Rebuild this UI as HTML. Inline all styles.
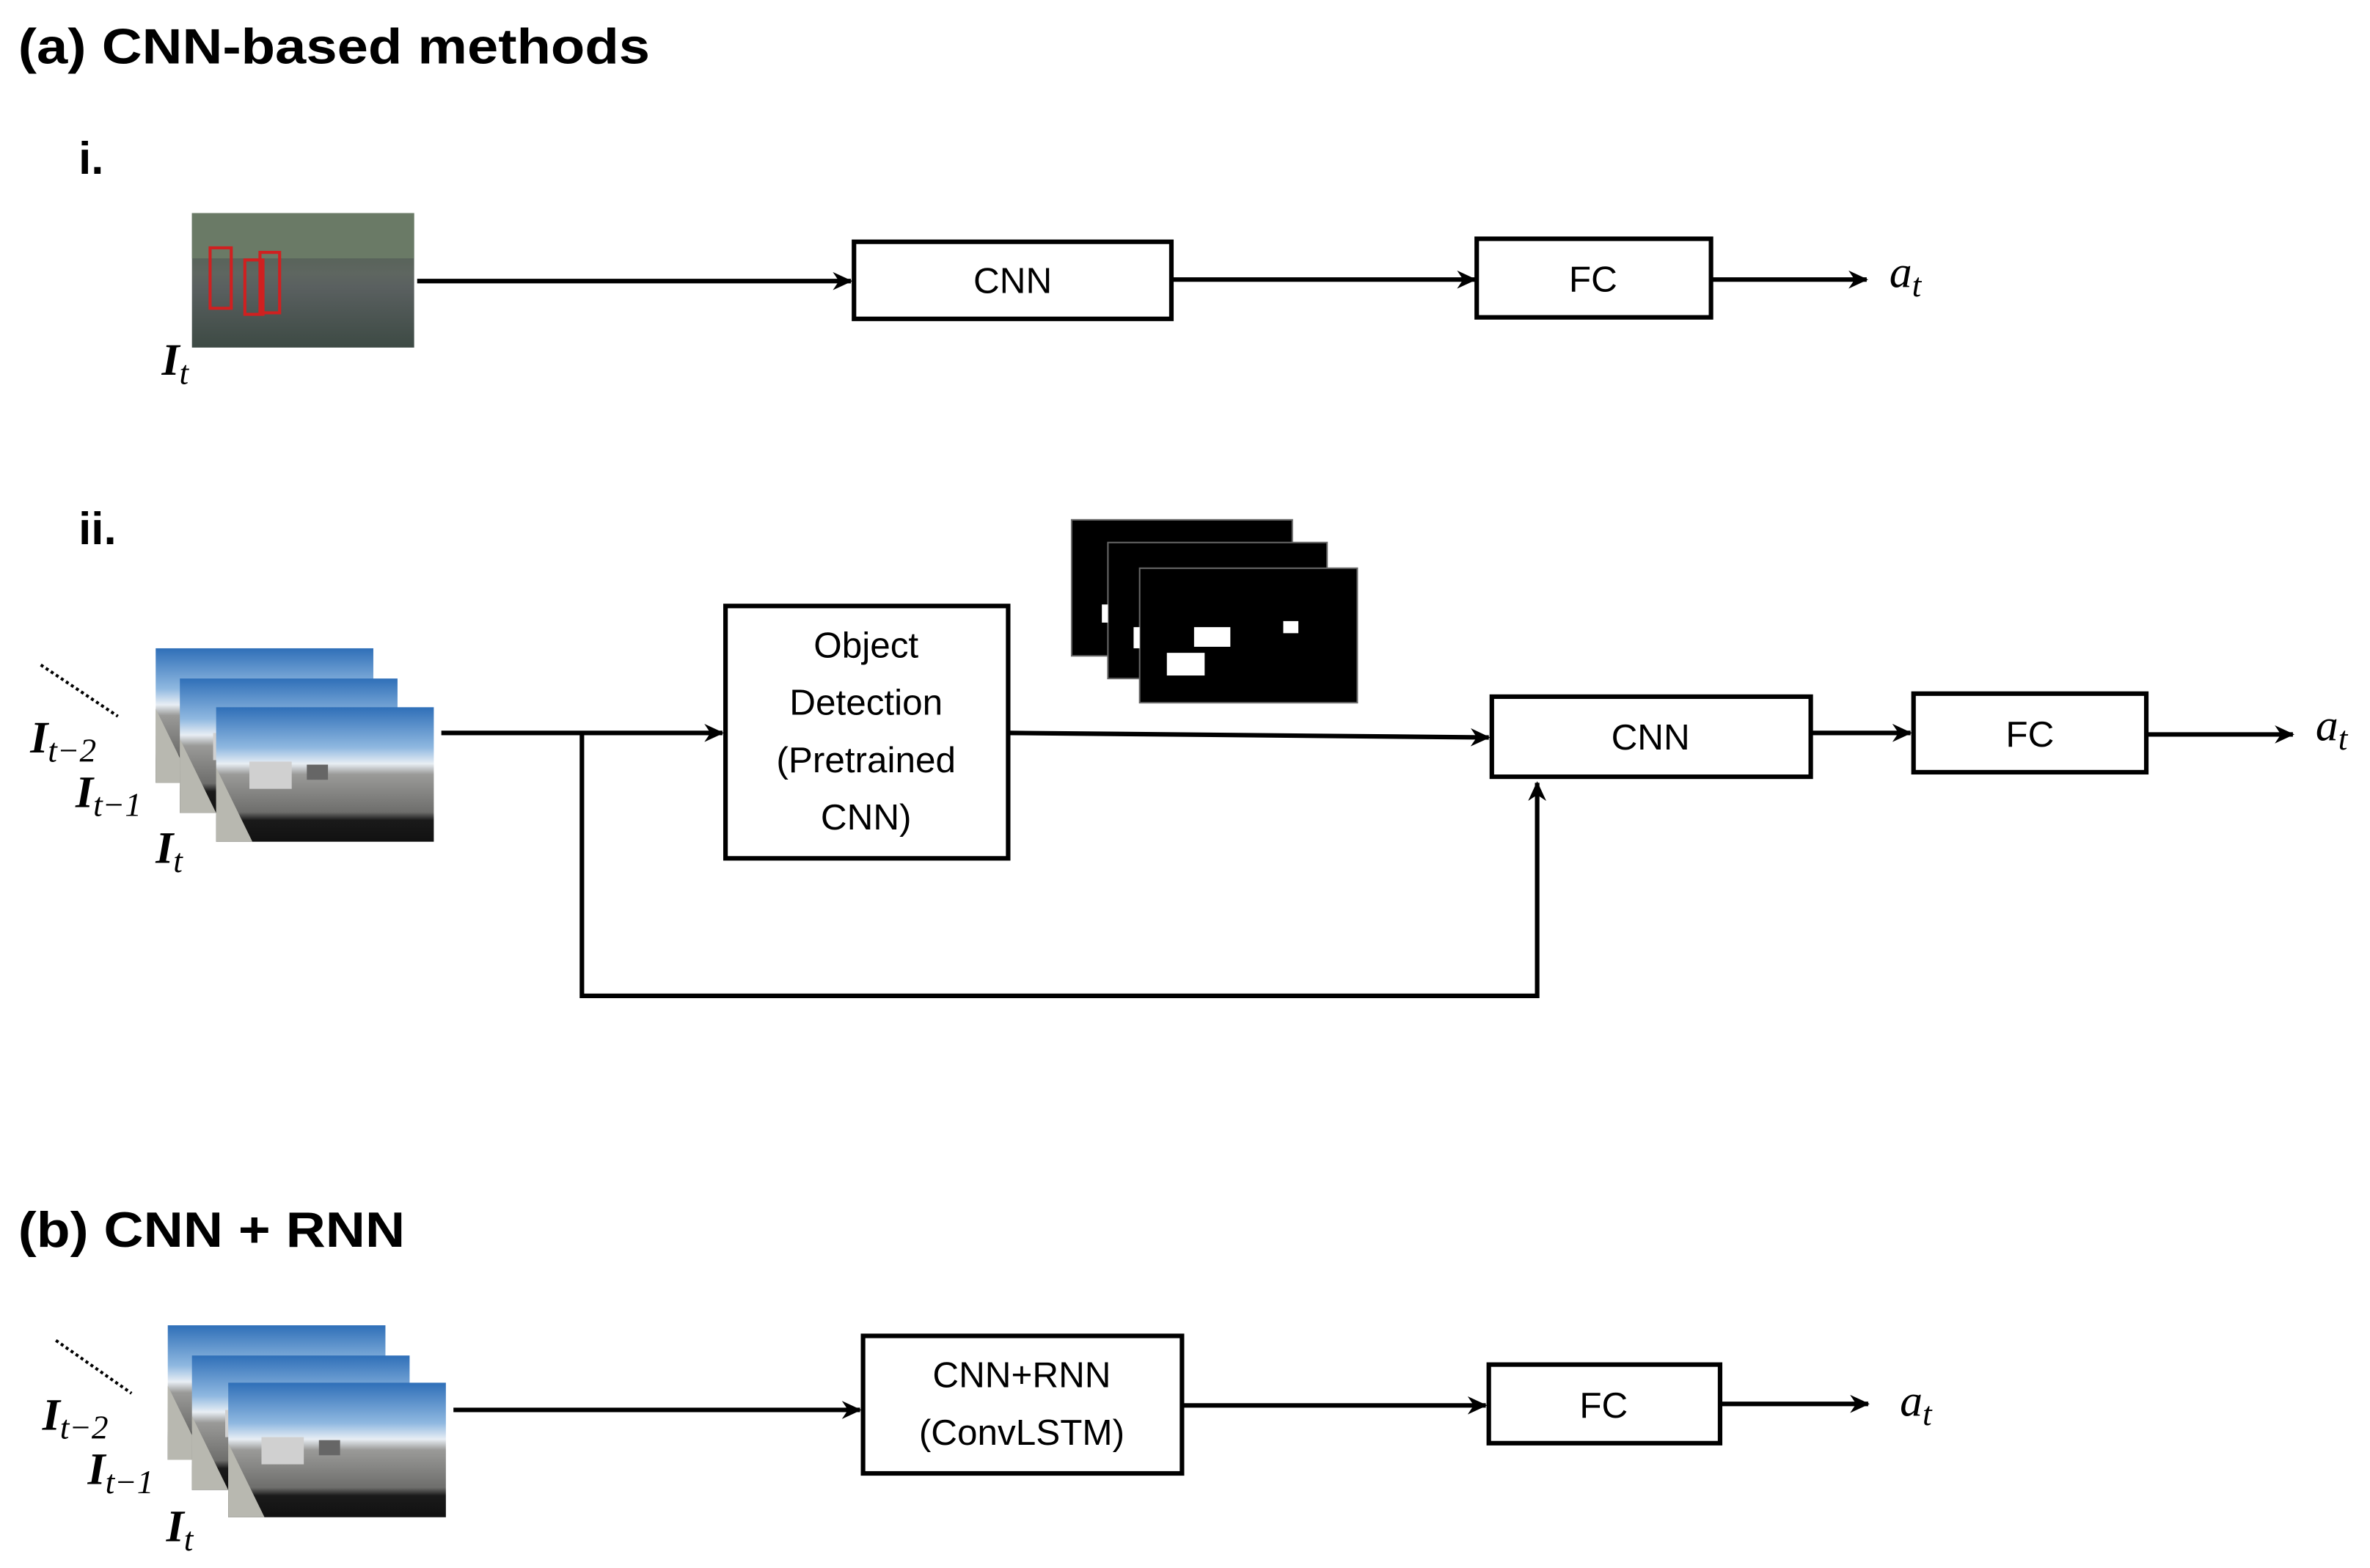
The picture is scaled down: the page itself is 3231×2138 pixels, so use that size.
<!DOCTYPE html>
<html><head><meta charset="utf-8"><style>
html,body{margin:0;padding:0;background:#fff;}
svg{display:block;}
</style></head><body>
<svg width="3231" height="2138" viewBox="0 0 1568 1037.6" preserveAspectRatio="none" xmlns="http://www.w3.org/2000/svg">
<defs>
<marker id="ar" markerWidth="14" markerHeight="12" refX="12" refY="6" orient="auto" markerUnits="userSpaceOnUse">
<path d="M0,0 L13,6 L0,12 L4,6 Z" fill="#000"/>
</marker>
<linearGradient id="sky" x1="0" y1="0" x2="0" y2="1">
<stop offset="0" stop-color="#2f6fb8"/><stop offset="0.3" stop-color="#8fb8e0"/><stop offset="0.42" stop-color="#e8eef4"/><stop offset="0.5" stop-color="#9a9a98"/><stop offset="0.78" stop-color="#6e6e6c"/><stop offset="0.84" stop-color="#1a1a1a"/><stop offset="1" stop-color="#111"/>
</linearGradient>
<linearGradient id="street" x1="0" y1="0" x2="0" y2="1">
<stop offset="0" stop-color="#4a5a4a"/><stop offset="0.45" stop-color="#5e6660"/><stop offset="0.55" stop-color="#5a6060"/><stop offset="1" stop-color="#3d4a44"/>
</linearGradient>
<g id="car">
<rect x="0" y="0" width="144" height="89" fill="url(#sky)"/>
<polygon points="0,40 24,89 0,89" fill="#b8b8b0"/>
<rect x="22" y="36" width="28" height="18" fill="#d0d0d0"/>
<rect x="60" y="38" width="14" height="10" fill="#666"/>
</g>
</defs>
<g font-family="'Liberation Sans', sans-serif" fill="#000">
<text x="12" y="42" font-size="33" font-weight="bold" textLength="418" lengthAdjust="spacingAndGlyphs">(a) CNN-based methods</text>
<text x="52" y="115" font-size="30" font-weight="bold">i.</text>
<text x="52" y="360" font-size="30" font-weight="bold">ii.</text>
<text x="12" y="825" font-size="33" font-weight="bold" textLength="256" lengthAdjust="spacingAndGlyphs">(b) CNN + RNN</text>
</g>
<g stroke="#000" stroke-width="3" fill="none">
<line x1="276" y1="186" x2="563" y2="186" marker-end="url(#ar)"/>
<rect x="565" y="160" width="210" height="51"/>
<line x1="776" y1="185" x2="976" y2="185" marker-end="url(#ar)"/>
<rect x="977" y="158" width="155" height="52"/>
<line x1="1133" y1="185" x2="1235" y2="185" marker-end="url(#ar)"/>
<line x1="292" y1="485" x2="478" y2="485" marker-end="url(#ar)"/>
<rect x="480" y="401" width="187" height="167"/>
<line x1="668" y1="485" x2="985" y2="488" marker-end="url(#ar)"/>
<rect x="987" y="461" width="211" height="53"/>
<line x1="1199" y1="485" x2="1264" y2="485" marker-end="url(#ar)"/>
<rect x="1266" y="459" width="154" height="52"/>
<line x1="1421" y1="486" x2="1517" y2="486" marker-end="url(#ar)"/>
<polyline points="385,485 385,659 1017,659 1017,518" marker-end="url(#ar)"/>
<line x1="300" y1="933" x2="569" y2="933" marker-end="url(#ar)"/>
<rect x="571" y="884" width="211" height="91"/>
<line x1="783" y1="930" x2="983" y2="930" marker-end="url(#ar)"/>
<rect x="985" y="903" width="153" height="52"/>
<line x1="1139" y1="929" x2="1236" y2="929" marker-end="url(#ar)"/>
</g>
<g stroke="#000" stroke-width="2" stroke-dasharray="2,2">
<line x1="27" y1="440" x2="78" y2="474"/>
<line x1="37" y1="887" x2="87" y2="922"/>
</g>
<rect x="127" y="141" width="147" height="89" fill="url(#street)"/>
<rect x="127" y="141" width="147" height="30" fill="#6a7a66"/>
<g fill="none" stroke="#d02020" stroke-width="2">
<rect x="139" y="164" width="14" height="40"/><rect x="162" y="172" width="12" height="36"/><rect x="172" y="167" width="13" height="40"/>
</g>
<use href="#car" x="103" y="429"/><use href="#car" x="119" y="449"/><use href="#car" x="143" y="468"/>
<use href="#car" x="111" y="877"/><use href="#car" x="127" y="897"/><use href="#car" x="151" y="915"/>
<g stroke="#666" stroke-width="1">
<rect x="709" y="344" width="146" height="90" fill="#000"/>
<rect x="733" y="359" width="145" height="90" fill="#000"/>
<rect x="754" y="376" width="144" height="89" fill="#000"/>
</g>
<g fill="#fff">
<rect x="729" y="400" width="4" height="12"/><rect x="750" y="415" width="4" height="14"/>
<rect x="790" y="415" width="24" height="13"/><rect x="772" y="432" width="25" height="15"/><rect x="849" y="411" width="10" height="8"/>
</g>
<g font-family="'Liberation Sans', sans-serif" font-size="24" text-anchor="middle" fill="#000">
<text x="670" y="194">CNN</text>
<text x="1054" y="193">FC</text>
<text x="573" y="435">Object</text>
<text x="573" y="473">Detection</text>
<text x="573" y="511">(Pretrained</text>
<text x="573" y="549">CNN)</text>
<text x="1092" y="496">CNN</text>
<text x="1343" y="494">FC</text>
<text x="676" y="918">CNN+RNN</text>
<text x="676" y="956">(ConvLSTM)</text>
<text x="1061" y="938">FC</text>
</g>
<g font-family="'Liberation Serif', 'DejaVu Serif', serif" font-style="italic" fill="#000" font-size="30">
<text x="1250" y="190">a<tspan font-size="22" dy="6">t</tspan></text>
<text x="1532" y="490">a<tspan font-size="22" dy="6">t</tspan></text>
<text x="1257" y="937">a<tspan font-size="22" dy="6">t</tspan></text>
<g font-weight="bold">
<text x="107" y="248">I<tspan font-size="22" font-weight="normal" dy="6">t</tspan></text>
<text x="20" y="498">I<tspan font-size="22" font-weight="normal" dy="6">t−2</tspan></text>
<text x="50" y="534">I<tspan font-size="22" font-weight="normal" dy="6">t−1</tspan></text>
<text x="103" y="571">I<tspan font-size="22" font-weight="normal" dy="6">t</tspan></text>
<text x="28" y="946">I<tspan font-size="22" font-weight="normal" dy="6">t−2</tspan></text>
<text x="58" y="982">I<tspan font-size="22" font-weight="normal" dy="6">t−1</tspan></text>
<text x="110" y="1020">I<tspan font-size="22" font-weight="normal" dy="6">t</tspan></text>
</g>
</g>
</svg>
</body></html>
